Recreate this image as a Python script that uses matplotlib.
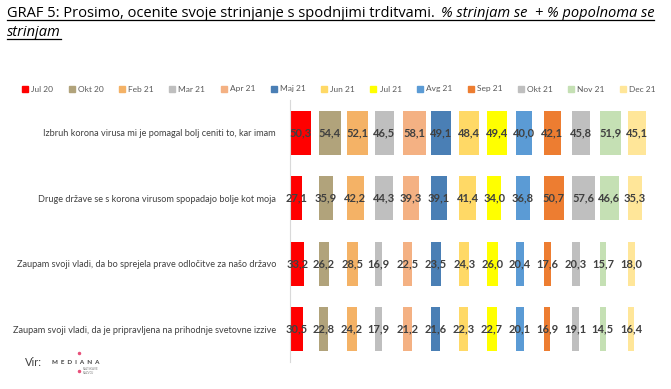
import matplotlib
matplotlib.use("Agg")
import matplotlib.pyplot as plt
from matplotlib.patches import Patch
from matplotlib.lines import Line2D

plt.rcParams['font.family'] = ['Lato', 'DejaVu Sans']

# data
months = ['Jul 20', 'Okt 20', 'Feb 21', 'Mar 21', 'Apr 21', 'Maj 21', 'Jun 21',
          'Jul 21', 'Avg 21', 'Sep 21', 'Okt 21', 'Nov 21', 'Dec 21']
statements = ['Izbruh korona virusa mi je pomagal bolj ceniti to, kar imam',
              'Druge države se s korona virusom spopadajo bolje kot moja',
              'Zaupam svoji vladi, da bo sprejela prave odločitve za našo državo',
              'Zaupam svoji vladi, da je pripravljena na prihodnje svetovne izzive']
izbruh = [50.3, 54.4, 52.1, 46.5, 58.1, 49.1, 48.4, 49.4, 40.0, 42.1, 45.8, 51.9, 45.1]
druge = [27.1, 35.9, 42.2, 44.3, 39.3, 39.1, 41.4, 34.0, 36.8, 50.7, 57.6, 46.6, 35.3]
vlada_odl = [33.2, 26.2, 28.5, 16.9, 22.5, 23.5, 24.3, 26.0, 20.4, 17.6, 20.3, 15.7, 18.0]
vlada_izz = [30.5, 22.8, 24.2, 17.9, 21.2, 21.6, 22.3, 22.7, 20.1, 16.9, 19.1, 14.5, 16.4]
colors = ['#FF0000', '#B1A37B', '#F4B266', '#BFBFBF', '#F4B183', '#4A7FB5', '#FFD966',
          '#FFFF00', '#5B9BD5', '#ED7D31', '#BFBFBF', '#C5E0B4', '#FFE699']

rows = [izbruh, druge, vlada_odl, vlada_izz]
panel = 70  # each month gets its own slot of 70 units

W, H = 671, 389
fig = plt.figure(figsize=(W/100, H/100), dpi=100)
ax = fig.add_axes([290/W, 1-362/H, 366/W, 262/H])

ypos = list(range(len(statements)))
for i, m in enumerate(months):
    vals = [r[i] for r in rows]
    ax.barh(ypos, vals, left=i*panel, height=0.67, color=colors[i], label=m)
    for y, v in zip(ypos, vals):
        ax.text(i*panel + v/2, y, f"{v:.1f}".replace('.', ','), ha='center', va='center',
                fontsize=8, fontweight='bold', color='#404040')

ax.set_xlim(-2, len(months)*panel)
ax.set_ylim(len(statements)-0.5, -0.5)
ax.set_yticks(ypos)
ax.set_yticklabels(statements)
ax.tick_params(axis='y', length=0, pad=10, labelsize=6.6, labelcolor='#404040')
ax.set_xticks([])
for s in ['top', 'right', 'bottom']:
    ax.spines[s].set_visible(False)
ax.spines['left'].set_color('#D9D9D9')
ax.spines['left'].set_position(('data', -2))

handles = [Patch(color=c) for c in colors]
fig.legend(handles, months, loc='center', bbox_to_anchor=(339/W, 1-89/H), ncol=13,
           frameon=False, fontsize=6, handlelength=0.7, handleheight=0.7,
           handletextpad=0.4, columnspacing=1.85, labelcolor='#595959')

# title in one size, fitted to the reference width, with underline
r = fig.canvas.get_renderer()
tfam = ['Open Sans', 'DejaVu Sans']
size = 10
t1 = fig.text(7/W, 1-17/H, "GRAF 5: Prosimo, ocenite svoje strinjanje s spodnjimi trditvami.",
              fontsize=size, family=tfam, ha='left', va='baseline')
t2 = fig.text(0, 1-17/H, "% strinjam se  + % popolnoma se", fontsize=size,
              family=tfam, style='italic', ha='left', va='baseline')
w = t1.get_window_extent(r).width + t2.get_window_extent(r).width + 6
size = size * (655 - 7) / w
t1.set_fontsize(size)
t2.set_fontsize(size)
t2.set_x((t1.get_window_extent(r).x1 + 6) / W)
t3 = fig.text(7/W, 1-36/H, "strinjam", fontsize=size, family=tfam, style='italic',
              ha='left', va='baseline')
bb3 = t3.get_window_extent(r)
x_end = t2.get_window_extent(r).x1
fig.add_artist(Line2D([7/W, x_end/W], [1-19.5/H]*2, color='black', lw=0.9))
fig.add_artist(Line2D([7/W, bb3.x1/W], [1-39/H]*2, color='black', lw=0.9))

# source
fig.text(25/W, 1-363/H, "Vir:", fontsize=8, color='#404040', va='center')
fig.text(52/W, 1-363/H, "M  E  D  I  A  N  A", fontsize=4.5, fontweight='bold',
         color='#404040', va='center')
fig.add_artist(Line2D([79/W], [1-353/H], marker='o', ms=1.5, color='#E8507A', lw=0))
fig.add_artist(Line2D([79/W], [1-371/H], marker='o', ms=1.5, color='#E8507A', lw=0))
fig.text(83/W, 1-371.5/H, "RAZISKAVE\nRAZVOJ", fontsize=2.2, color='#808080',
         va='center', linespacing=1.0)

fig.savefig("out.png", dpi=100)
